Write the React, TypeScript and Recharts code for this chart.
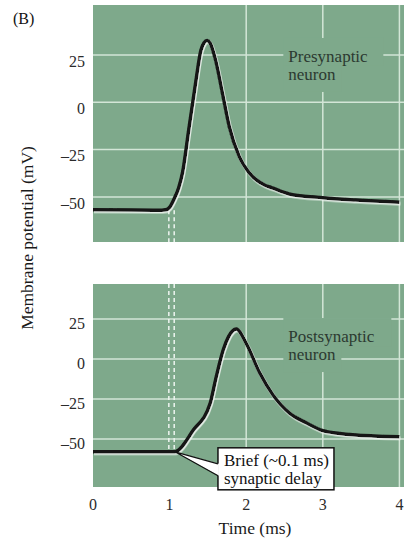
import { CartesianGrid, Line, LineChart, ReferenceDot, ReferenceLine, XAxis, YAxis } from 'recharts';

// time (ms) / membrane potential (mV)
const PRE_TIME = [0, 0.5, 0.9, 0.95, 1.0, 1.06, 1.12, 1.17, 1.25, 1.34, 1.41, 1.45, 1.49, 1.53, 1.6, 1.69, 1.78, 1.91, 2.04, 2.24, 2.34, 2.56, 3.0, 3.43, 4.0];
const PRE_MV = [-56.8, -56.9, -57, -56.8, -55.5, -51, -45, -37, -14.6, 10.2, 27.6, 31.5, 32.6, 31.2, 22.4, 4.9, -12.9, -28.7, -37.3, -43.7, -45.2, -48.4, -50.4, -51.6, -52.8];

const POST_TIME = [0, 0.5, 1.0, 1.07, 1.31, 1.53, 1.61, 1.7, 1.77, 1.87, 2.0, 2.18, 2.35, 2.57, 2.79, 3.0, 3.22, 3.66, 4.0];
const POST_MV = [-58, -58, -58, -57.9, -44.4, -27.7, -11, 5.6, 14, 18.8, 9.8, -9, -22.5, -34, -40, -44.8, -46.5, -48.1, -48.6];

const TIME_TICKS = [0, 1, 2, 3, 4];
const GRID_TIMES = [2, 3, 4];
const MV_TICKS = [-50, -25, 0, 25];
const STIM_TIMES = [0.99, 1.06];

const PRE_NOTE = ['Presynaptic', 'neuron'];
const POST_NOTE = ['Postsynaptic', 'neuron'];
const DELAY_NOTE = ['Brief (~0.1 ms)', 'synaptic delay'];

const SERIF = "'Liberation Serif', 'Times New Roman', serif";
const GREEN = '#7ea98b';
const GRID = '#d3e6d7';
const NOTE_INK = '#2c3a31';

const preData = PRE_TIME.map((t, i) => ({ t, mv: PRE_MV[i] }));
const postData = POST_TIME.map((t, i) => ({ t, mv: POST_MV[i] }));

const fmt = (v: number) => (v < 0 ? '\u2013' + Math.abs(v) : String(v));

const mvTick = (shift: number) => (p: any) => (
  <text x={p.x} y={p.y + shift} dy="0.355em" textAnchor="end" fontSize={16} fill="#2b2b2b" fontFamily={SERIF}>
    {fmt(p.payload.value)}
  </text>
);

function Note(props: any) {
  const { cx, cy, lines, dy } = props;
  return (
    <g>
      <rect x={cx - 5} y={cy + dy - 24} width={lines[0].length * 8 + 12} height={28} fill={GREEN} />
      <rect x={cx - 5} y={cy + dy + 4} width={lines[1].length * 8 + 10} height={26} fill={GREEN} />
      <text fontFamily={SERIF} fontSize={17} fill={NOTE_INK}>
        {lines.map((s: string, i: number) => (
          <tspan key={s} x={cx} y={cy + dy + i * 18}>
            {s}
          </tspan>
        ))}
      </text>
    </g>
  );
}

function Callout(props: any) {
  const { cx, cy } = props;
  const bx = cx + 43;
  const by = cy - 4;
  return (
    <g>
      <rect x={bx} y={by} width={116} height={42} fill="#fff" stroke="#111" strokeWidth={1.5} />
      <path d={`M${cx},${cy} L${bx + 1},${cy + 12} L${bx + 1},${cy + 24} Z`} fill="#fff" stroke="none" />
      <path d={`M${cx},${cy} L${bx},${cy + 12} M${cx},${cy} L${bx},${cy + 24}`} stroke="#111" strokeWidth={1.3} fill="none" />
      <text fontFamily={SERIF} fontSize={17} fill="#111">
        {DELAY_NOTE.map((s, i) => (
          <tspan key={s} x={cx + 49} y={cy + 14 + i * 18}>
            {s}
          </tspan>
        ))}
      </text>
    </g>
  );
}

function Halo() {
  return (
    <defs>
      <filter id="halo" x="-5%" y="-5%" width="110%" height="110%">
        <feDropShadow dx="1" dy="1.5" stdDeviation="0.4" floodColor="#f4f8f5" floodOpacity="0.85" />
      </filter>
    </defs>
  );
}

export default function App() {
  return (
    <div style={{ position: 'absolute', left: 0, top: 0, width: 406, height: 538, background: '#fff' }}>
      <div style={{ position: 'absolute', left: 0, top: 0 }}>
        <LineChart width={406} height={260} data={preData} margin={{ top: 5, right: 2, bottom: 18, left: 53 }}>
          <Halo />
          <CartesianGrid fill={GREEN} stroke={GRID} strokeWidth={1.5} horizontalValues={MV_TICKS} verticalValues={GRID_TIMES} />
          <XAxis type="number" dataKey="t" domain={[0, 4.06]} ticks={TIME_TICKS} hide height={0} />
          <YAxis type="number" width={40} domain={[-73.8, 51.4]} ticks={MV_TICKS} axisLine={false} tickLine={false} tick={mvTick(6)} allowDataOverflow />
          {STIM_TIMES.map((t) => (
            <ReferenceLine key={t} segment={[{ x: t, y: -57 }, { x: t, y: -73.8 }]} stroke="#eef5f0" strokeWidth={1.5} strokeDasharray="4 3" />
          ))}
          <ReferenceDot x={2.55} y={25} r={0} shape={(p: any) => <Note {...p} lines={PRE_NOTE} dy={7} />} />
          <Line type="monotone" dataKey="mv" stroke="#141414" strokeWidth={3.5} dot={false} filter="url(#halo)" isAnimationActive={false} />
        </LineChart>
      </div>
      <div style={{ position: 'absolute', left: 0, top: 270 }}>
        <LineChart width={406} height={268} data={postData} margin={{ top: 14, right: 2, bottom: 21, left: 53 }}>
          <Halo />
          <CartesianGrid fill={GREEN} stroke={GRID} strokeWidth={1.5} horizontalValues={MV_TICKS} verticalValues={GRID_TIMES} />
          <XAxis
            type="number"
            dataKey="t"
            domain={[0, 4.06]}
            ticks={TIME_TICKS}
            height={30}
            axisLine={false}
            tickLine={false}
            tickMargin={6}
            tick={{ fontSize: 16, fill: '#2b2b2b', fontFamily: SERIF }}
            allowDataOverflow
          />
          <YAxis type="number" width={40} domain={[-80, 46.9]} ticks={MV_TICKS} axisLine={false} tickLine={false} tick={mvTick(4)} allowDataOverflow />
          {STIM_TIMES.map((t) => (
            <ReferenceLine key={t} segment={[{ x: t, y: 46.9 }, { x: t, y: -58 }]} stroke="#eef5f0" strokeWidth={1.5} strokeDasharray="4 3" />
          ))}
          <ReferenceDot x={2.55} y={25} r={0} shape={(p: any) => <Note {...p} lines={POST_NOTE} dy={23} />} />
          <Line type="monotone" dataKey="mv" stroke="#141414" strokeWidth={3.5} dot={false} filter="url(#halo)" isAnimationActive={false} />
          <ReferenceDot x={1.07} y={-58} r={0} shape={(p: any) => <Callout {...p} />} />
        </LineChart>
      </div>
      <svg width={406} height={538} style={{ position: 'absolute', left: 0, top: 0, pointerEvents: 'none' }}>
        <text x={13} y={24} fontFamily={SERIF} fontSize={16} fill="#111">
          (B)
        </text>
        <text x={33} y={238} transform="rotate(-90 33 238)" textAnchor="middle" fontFamily={SERIF} fontSize={17.5} fill="#1a1a1a">
          Membrane potential (mV)
        </text>
        <text x={255} y={534} textAnchor="middle" fontFamily={SERIF} fontSize={17.5} fill="#1a1a1a">
          Time (ms)
        </text>
      </svg>
    </div>
  );
}
